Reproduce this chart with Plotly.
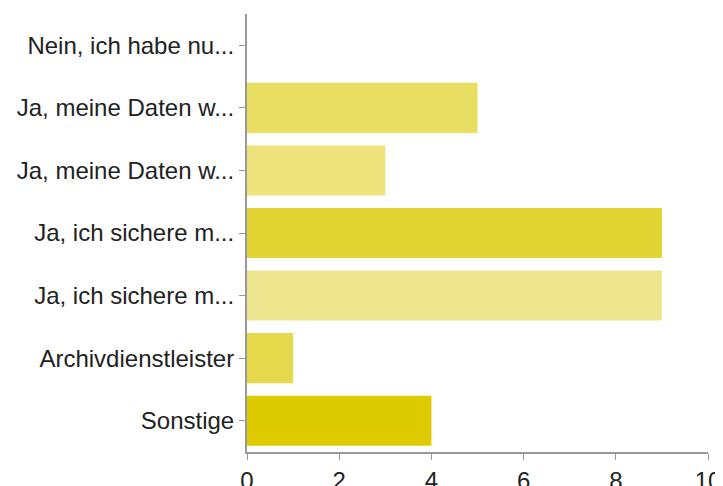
import plotly.graph_objects as graph_objects

labels = [
    "Nein, ich habe nu...",
    "Ja, meine Daten w...",
    "Ja, meine Daten w...",
    "Ja, ich sichere m...",
    "Ja, ich sichere m...",
    "Archivdienstleister",
    "Sonstige",
]
counts = [0, 5, 3, 9, 9, 1, 4]
bar_colors = ["#E6DA52", "#E8DE62", "#EDE27C", "#E2D433", "#EEE68E", "#E5D84A", "#DDCB00"]
x_ticks = [0, 2, 4, 6, 8, 10]

positions = list(range(len(labels)))

fig = graph_objects.Figure()
fig.add_trace(graph_objects.Bar(
    x=counts,
    y=positions,
    orientation="h",
    marker=dict(color=bar_colors, line=dict(width=0)),
    width=0.8,
))

# page body has an 8px margin, so the figure is a little smaller than the window
fig.update_layout(
    width=715,
    height=478,
    margin=dict(l=239, r=15, t=6, b=34),
    plot_bgcolor="white",
    paper_bgcolor="white",
    showlegend=False,
    font=dict(family="Liberation Sans, Arial, sans-serif", size=24, color="#222222"),
)
fig.update_xaxes(
    range=[0, 10],
    tickvals=x_ticks,
    automargin=False,
    showgrid=False,
    zeroline=False,
    showline=True,
    linecolor="#999999",
    linewidth=2,
    ticks="outside",
    ticklen=6,
    tickcolor="#999999",
    tickfont=dict(size=24),
)
fig.update_yaxes(
    range=[6.5, -0.5],
    tickvals=positions,
    ticktext=labels,
    automargin=False,
    showgrid=False,
    zeroline=False,
    showline=True,
    linecolor="#999999",
    linewidth=2,
    ticks="outside",
    ticklen=6,
    tickcolor="#999999",
    tickfont=dict(size=24),
)

fig.write_html("out.html")
